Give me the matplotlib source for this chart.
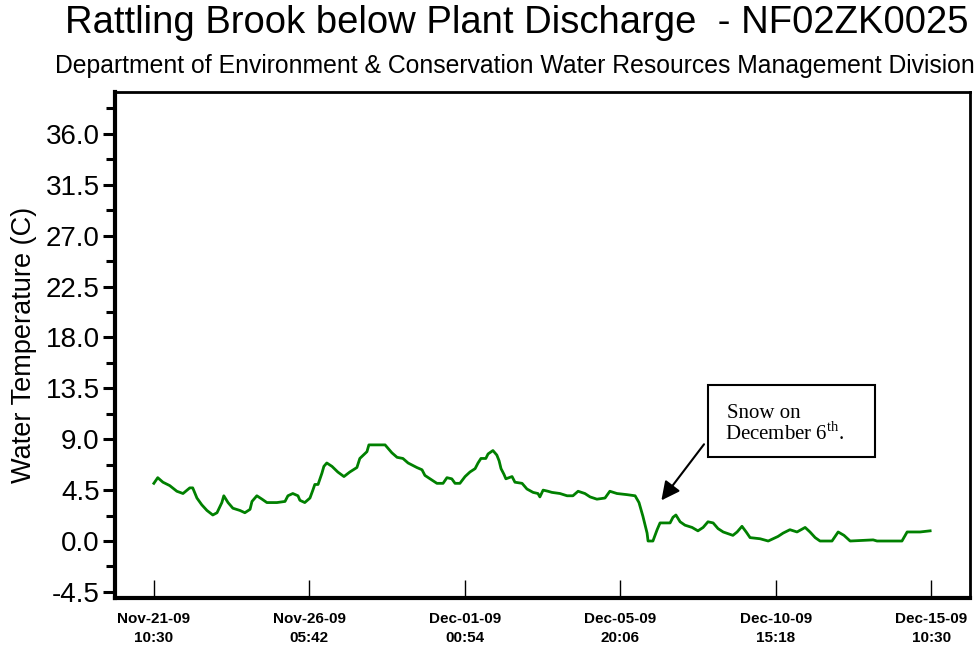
import matplotlib
matplotlib.use("Agg")
import matplotlib.pyplot as plt
import matplotlib.patches as mpatches
import pandas as pd

# record start and offsets (days)
START = pd.Timestamp("2009-11-21 10:30")

day_offset = [
    0.00, 0.12, 0.28, 0.49, 0.71, 0.90, 1.11, 1.20, 1.33, 1.48, 1.64, 1.82, 1.95,
    2.10, 2.16, 2.29, 2.44, 2.66, 2.81, 2.97, 3.03, 3.18, 3.34, 3.49, 3.80, 4.05,
    4.14, 4.29, 4.45, 4.51, 4.66, 4.82, 4.91, 4.97, 5.07, 5.19, 5.25, 5.34, 5.50,
    5.68, 5.87, 6.05, 6.27, 6.36, 6.58, 6.64, 7.14, 7.35, 7.51, 7.69, 7.85, 8.12,
    8.28, 8.37, 8.53, 8.74, 8.93, 9.05, 9.20, 9.30, 9.45, 9.61, 9.76, 9.92, 10.01,
    10.10, 10.25, 10.32, 10.47, 10.59, 10.66, 10.72, 10.81, 10.87, 11.06, 11.15,
    11.37, 11.52, 11.71, 11.86, 11.92, 12.02, 12.17, 12.29, 12.54, 12.76, 12.94,
    13.10, 13.31, 13.47, 13.68, 13.93, 14.08, 14.30, 14.61, 14.86, 14.98, 15.10,
    15.23, 15.26, 15.41, 15.54, 15.63, 15.94, 16.03, 16.12, 16.25, 16.40, 16.62,
    16.80, 16.96, 17.11, 17.27, 17.42, 17.58, 17.88, 18.01, 18.16, 18.29, 18.41,
    18.72, 18.97, 19.12, 19.27, 19.43, 19.64, 19.86, 20.11, 20.26, 20.42, 20.57,
    20.94, 21.13, 21.31, 21.50, 22.21, 22.33, 23.10, 23.26, 23.66, 23.97,
]
water_temp = [
    5.1, 5.6, 5.2, 4.9, 4.4, 4.2, 4.7, 4.7, 3.8, 3.2, 2.7, 2.3, 2.5,
    3.4, 4.0, 3.4, 2.9, 2.7, 2.5, 2.8, 3.5, 4.0, 3.7, 3.4, 3.4, 3.5,
    4.0, 4.2, 4.0, 3.6, 3.4, 3.8, 4.5, 5.0, 5.0, 6.0, 6.6, 6.9, 6.6,
    6.1, 5.7, 6.1, 6.5, 7.3, 7.9, 8.5, 8.5, 7.8, 7.4, 7.3, 6.9, 6.5,
    6.3, 5.8, 5.5, 5.1, 5.1, 5.6, 5.5, 5.1, 5.1, 5.7, 6.1, 6.4, 6.9,
    7.3, 7.3, 7.7, 8.0, 7.6, 7.1, 6.4, 5.9, 5.5, 5.7, 5.2,
    5.1, 4.6, 4.3, 4.2, 3.9, 4.5, 4.4, 4.3, 4.2, 4.0, 4.0,
    4.4, 4.2, 3.9, 3.7, 3.8, 4.4, 4.2, 4.1, 4.0, 3.4, 2.2,
    0.7, 0.0, 0.0, 1.0, 1.6, 1.6, 2.1, 2.3, 1.7, 1.4, 1.2,
    0.9, 1.2, 1.7, 1.6, 1.1, 0.8, 0.5, 0.8, 1.3, 0.8, 0.3,
    0.2, 0.0, 0.2, 0.4, 0.7, 1.0, 0.8, 1.2, 0.8, 0.3, 0.0,
    0.0, 0.8, 0.5, 0.0, 0.1, 0.0, 0.0, 0.8, 0.8, 0.9,
]

y_major = [-4.5, 0.0, 4.5, 9.0, 13.5, 18.0, 22.5, 27.0, 31.5, 36.0]
y_minor = [-2.25, 2.25, 6.75, 11.25, 15.75, 20.25, 24.75, 29.25, 33.75, 38.25]
n_xticks = 6
xtick_step_min = 6912  # 4 days 19:12

title = "Rattling Brook below Plant Discharge  - NF02ZK0025"
subtitle = "Department of Environment & Conservation Water Resources Management Division"

plt.rcParams["font.family"] = ["Liberation Sans", "DejaVu Sans"]
plt.rcParams["mathtext.fontset"] = "custom"
plt.rcParams["mathtext.rm"] = "Liberation Serif"

times = START + pd.to_timedelta(day_offset, unit="D")
xticks = [START + pd.Timedelta(minutes=xtick_step_min * i) for i in range(n_xticks)]
xlabels = [t.strftime("%b-%d-%y\n%H:%M") for t in xticks]

fig = plt.figure(figsize=(9.77, 6.54), dpi=100)
ax = fig.add_axes([0.1177, 0.0856, 0.8751, 0.7737])

ax.plot(times, water_temp, color="#008000", lw=2.0)

ax.set_xlim(START - pd.Timedelta(days=1.2), START + pd.Timedelta(days=25.2))
ax.set_ylim(-5.04, 39.7)

ax.set_xticks(xticks)
ax.set_xticklabels(xlabels, fontsize=11, fontweight="bold", linespacing=1.5)
ax.tick_params(axis="x", direction="in", length=13, width=1, pad=10)

ax.set_yticks(y_major)
ax.set_yticklabels([f"{v:.1f}" for v in y_major], fontsize=20)
ax.set_yticks(y_minor, minor=True)
ax.tick_params(axis="y", which="major", direction="out", length=9, width=2.2, pad=2)
ax.tick_params(axis="y", which="minor", direction="out", length=6.5, width=2.2)
ax.set_ylabel("Water Temperature (C)", fontsize=19.5, labelpad=6)

ax.spines["left"].set_linewidth(3)
ax.spines["bottom"].set_linewidth(3)
ax.spines["top"].set_linewidth(2)
ax.spines["right"].set_linewidth(2)

fig.text(0.529, 0.992, title, ha="center", va="top", fontsize=27.5)
fig.text(0.527, 0.918, subtitle, ha="center", va="top", fontsize=17.8)

# annotation box for the snow event
box = mpatches.Rectangle((0.6936, 0.2787), 0.1953, 0.1423, transform=ax.transAxes,
                         fill=False, edgecolor="black", lw=1.5)
ax.add_patch(box)
ax.text(0.7158, 0.3557, "Snow on", transform=ax.transAxes, fontsize=15,
        family="Liberation Serif", va="baseline")
ax.text(0.7138, 0.3123, r"December 6$^{\rm th}$.", transform=ax.transAxes, fontsize=15,
        family="Liberation Serif", va="baseline")
ax.annotate("", xy=(START + pd.Timedelta(days=15.62), 3.4),
            xytext=(START + pd.Timedelta(days=17.04), 8.75),
            arrowprops=dict(arrowstyle="-|>", color="black", lw=1.5, mutation_scale=28))

fig.savefig("out.png", dpi=100)
